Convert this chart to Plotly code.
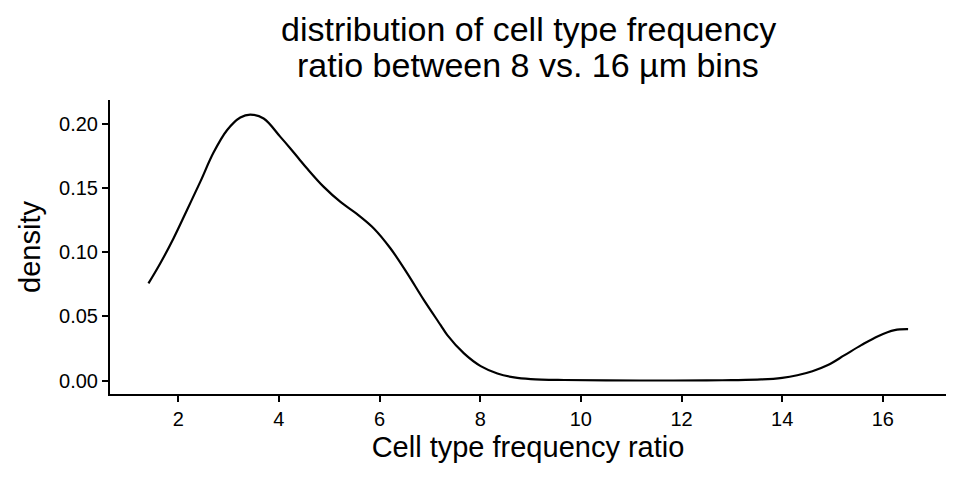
import plotly.graph_objects as go

ratio = [1.409, 1.642, 1.906, 2.173, 2.438, 2.702, 2.969, 3.234, 3.433, 3.698,
         4.030, 4.229, 4.394, 4.561, 4.892, 5.224, 5.556, 5.887, 6.219, 6.551,
         6.882, 7.214, 7.347, 7.678, 8.010, 8.342, 8.673, 9.005, 9.668, 10.5,
         11.5, 12.5, 13.0, 13.582, 14.0, 14.3, 14.6, 14.909, 15.240, 15.572, 15.904,
         16.235, 16.502]
density = [0.0756, 0.0911, 0.1106, 0.1326, 0.1546, 0.1774, 0.1948, 0.2047, 0.2070, 0.2039,
           0.1896, 0.1806, 0.1728, 0.1650, 0.1507, 0.1390, 0.1295, 0.1184, 0.1028, 0.0834,
           0.0626, 0.0432, 0.0354, 0.0212, 0.0113, 0.0056, 0.0025, 0.0012, 0.0005, 0.0002,
           0.0001, 0.0002, 0.0004, 0.0009, 0.0022, 0.0042, 0.0073, 0.0121, 0.0198, 0.0276, 0.0346,
           0.0393, 0.0400]

x_ticks = [2, 4, 6, 8, 10, 12, 14, 16]
y_ticks = [0.00, 0.05, 0.10, 0.15, 0.20]
y_tick_labels = ["0.00", "0.05", "0.10", "0.15", "0.20"]
title_lines = ["distribution of cell type frequency", "ratio between 8 vs. 16 µm bins"]

FONT = "Liberation Sans, Arial, sans-serif"

fig = go.Figure()
fig.add_trace(go.Scatter(
    x=ratio, y=density, mode="lines",
    line=dict(color="black", width=2.2, shape="spline", smoothing=1.0),
    hoverinfo="skip", showlegend=False,
))

# page body adds an 8px offset; margins compensate so the plot lands where the reference's does
fig.update_layout(
    width=960, height=480,
    paper_bgcolor="white", plot_bgcolor="white",
    margin=dict(l=102, r=22, t=92, b=94, autoexpand=False),
    font=dict(family=FONT, color="black"),
)

for line_text, shift in zip(title_lines, [71, 35]):
    fig.add_annotation(
        text=line_text,
        xref="paper", yref="paper", x=0.5, y=1,
        xanchor="center", yanchor="middle", yshift=shift,
        showarrow=False, align="center",
        font=dict(size=34, color="black", family=FONT),
    )

fig.update_xaxes(
    range=[0.645, 17.255], automargin=False,
    tickmode="array", tickvals=x_ticks, ticktext=[str(v) for v in x_ticks],
    showline=True, linecolor="black", linewidth=2,
    ticks="outside", ticklen=6, tickwidth=2, tickcolor="black",
    showgrid=False, zeroline=False,
    tickfont=dict(size=20, color="black"),
    title=dict(text="Cell type frequency ratio", font=dict(size=29, color="black"), standoff=8),
)
fig.update_yaxes(
    range=[-0.0104, 0.2183], automargin=False,
    tickmode="array", tickvals=y_ticks, ticktext=y_tick_labels,
    showline=True, linecolor="black", linewidth=2,
    ticks="outside", ticklen=6, tickwidth=2, tickcolor="black",
    showgrid=False, zeroline=False,
    tickfont=dict(size=20, color="black"),
    title=dict(text="density", font=dict(size=29, color="black"), standoff=10),
)

fig.write_html("out.html")
